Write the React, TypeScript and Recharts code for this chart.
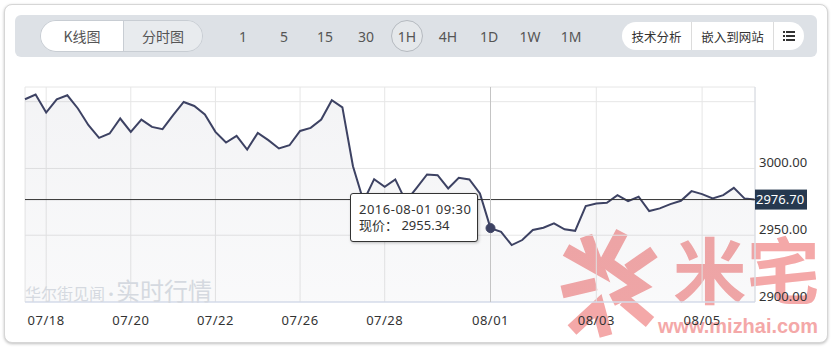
import React from 'react';
import { AreaChart, Area, XAxis, YAxis, CartesianGrid, ReferenceLine, Tooltip } from 'recharts';

// trading sessions: day label + hourly bar start times
const sessions: [string, string[]][] = [
  ['07-15', ['13:00', '14:00']],
  ['07-18', ['09:30', '10:30', '13:00', '14:00']],
  ['07-19', ['09:30', '10:30', '13:00', '14:00']],
  ['07-20', ['09:30', '10:30', '13:00', '14:00']],
  ['07-21', ['09:30', '10:30', '13:00', '14:00']],
  ['07-22', ['09:30', '10:30', '13:00', '14:00']],
  ['07-25', ['09:30', '10:30', '13:00', '14:00']],
  ['07-26', ['09:30', '10:30', '13:00', '14:00']],
  ['07-27', ['09:30', '10:30', '13:00', '14:00']],
  ['07-28', ['09:30', '10:30', '13:00', '14:00', '15:00']],
  ['07-29', ['09:30', '10:30', '13:00', '14:00', '15:00']],
  ['08-01', ['09:30', '10:30', '13:00', '14:00', '15:00']],
  ['08-02', ['09:30', '10:30', '13:00', '14:00', '15:00']],
  ['08-03', ['09:30', '10:30', '13:00', '14:00', '15:00']],
  ['08-04', ['09:30', '10:30', '13:00', '14:00', '15:00']],
  ['08-05', ['09:30', '10:30', '11:30', '13:00', '14:00', '15:00']],
];

const prices: number[] = [
  3051.8, 3055.3, 3041.9, 3051.8, 3054.8, 3044.9, 3032.4, 3022.9, 3026.2, 3037.4,
  3027.4, 3036.6, 3031.1, 3029.4, 3039.9, 3049.8, 3046.8, 3040.4, 3027.4, 3019.4,
  3024.4, 3014.2, 3026.6, 3021.2, 3015.0, 3017.4, 3028.1, 3030.4, 3036.6, 3051.1,
  3045.8, 3001.7, 2975.5, 2992.0, 2986.2, 2991.8, 2975.4, 2985.3, 2995.5, 2995.0,
  2985.0, 2993.0, 2991.8, 2981.3, 2955.34, 2952.6, 2942.6, 2946.4, 2953.9, 2955.6,
  2958.9, 2954.4, 2953.3, 2971.8, 2973.8, 2974.3, 2980.0, 2975.5, 2978.8, 2968.1,
  2970.1, 2973.3, 2975.8, 2983.0, 2980.8, 2977.6, 2980.0, 2985.5, 2977.6, 2976.70,
];

const tickDays: string[] = ['07-18', '07-20', '07-22', '07-26', '07-28', '08-01', '08-03', '08-05'];
const yTicks: number[] = [2900, 2950, 3000, 3050];
const hiddenYLabels: number[] = [3050];
const currentPrice = 2976.70;
const tooltipIndex = 44;

const periods: string[] = ['1', '5', '15', '30', '1H', '4H', '1D', '1W', '1M'];
const activePeriod = '1H';

const times: string[] = [];
sessions.forEach(([d, hs]) => hs.forEach((h) => times.push(`2016-${d} ${h}`)));
const data = prices.map((p, i) => ({ i, time: times[i], price: p }));
const xTicks = tickDays.map((d) => times.findIndex((t) => t.startsWith(`2016-${d}`)));
const xLabel = (v: number) => {
  const t = times[v] || '';
  return t.slice(5, 10).replace('-', '/');
};

const FONT = '"Noto Sans", "Noto Sans CJK SC", sans-serif';
const CJK = '"Noto Sans CJK SC", "Noto Sans", sans-serif';

const YTick = (props: any) => {
  const { x, y, payload } = props;
  if (hiddenYLabels.includes(payload.value)) return <g />;
  return (
    <text x={x + 4} y={y - 6} dy="0.35em" fontSize={13} fill="#333" fontFamily={FONT} textAnchor="start">
      {payload.value.toFixed(2)}
    </text>
  );
};

const XTick = (props: any) => {
  const { x, y, payload } = props;
  return (
    <text x={x} y={y + 10} dy="0.35em" fontSize={13} fill="#333" fontFamily={FONT} textAnchor="middle" letterSpacing={0.5}>
      {xLabel(payload.value)}
    </text>
  );
};

const PriceLabel = (props: any) => {
  const vb = props.viewBox || {};
  const right = (vb.x || 0) + (vb.width || 0);
  const y = vb.y || 0;
  return (
    <g>
      <rect x={right} y={y - 10} width={52} height={20} fill="#26384f" />
      <text x={right + 1} y={y} dy="0.35em" fontSize={13} fill="#fff" fontFamily={FONT}>
        {currentPrice.toFixed(2)}
      </text>
    </g>
  );
};

const TipContent = (props: any) => {
  const { payload } = props;
  if (!payload || !payload.length) return null;
  const p = payload[0].payload;
  return (
    <div
      style={{
        width: 128,
        height: 49,
        background: '#fff',
        border: '1px solid #333',
        borderRadius: 3,
        boxShadow: '1px 1px 3px rgba(0,0,0,0.25)',
        fontFamily: FONT,
        fontSize: 13,
        color: '#333',
        padding: '7px 0 0 8px',
        boxSizing: 'border-box',
        lineHeight: '16px',
        whiteSpace: 'nowrap',
      }}
    >
      <div style={{ letterSpacing: 0.5 }}>{p.time}</div>
      <div>
        <span style={{ fontFamily: CJK }}>现价：</span>&nbsp;{p.price.toFixed(2)}
      </div>
    </div>
  );
};

export default function App() {
  return (
    <div style={{ position: 'absolute', left: 0, top: 0, width: 832, height: 347, background: '#fff', overflow: 'hidden' }}>
      {/* card */}
      <div
        style={{
          position: 'absolute',
          left: 4,
          top: 4,
          width: 822,
          height: 337,
          border: '1px solid #d6d6d6',
          borderRadius: 8,
          boxShadow: '0 1px 3px rgba(0,0,0,0.25)',
          background: '#fff',
        }}
      />
      {/* toolbar */}
      <div style={{ position: 'absolute', left: 15, top: 15, width: 802, height: 42, background: '#dde1e6', borderRadius: 6 }} />
      <div
        style={{
          position: 'absolute', left: 40, top: 20, width: 163, height: 32, borderRadius: 16,
          border: '1px solid #c8cdd3', boxSizing: 'border-box', overflow: 'hidden', display: 'flex',
          fontFamily: CJK, fontSize: 14, color: '#555',
        }}
      >
        <div style={{ width: 82, background: '#fff', display: 'flex', alignItems: 'center', justifyContent: 'center' }}>K线图</div>
        <div style={{ flex: 1, background: '#e8ebee', borderLeft: '1px solid #c8cdd3', display: 'flex', alignItems: 'center', justifyContent: 'center' }}>分时图</div>
      </div>
      {periods.map((p, k) => {
        const cx = 243 + k * 41;
        const active = p === activePeriod;
        return (
          <div
            key={p}
            style={{
              position: 'absolute', left: cx - 16, top: 20, width: 32, height: 32, borderRadius: 16,
              boxSizing: 'border-box', border: active ? '1px solid #b5bac0' : 'none',
              background: active ? '#e5e8eb' : 'transparent', display: 'flex', alignItems: 'center',
              justifyContent: 'center', fontFamily: FONT, fontSize: 14, color: '#555',
            }}
          >
            {p}
          </div>
        );
      })}
      <div
        style={{
          position: 'absolute', left: 622, top: 22, width: 182, height: 28, borderRadius: 14, background: '#fff',
          display: 'flex', fontFamily: CJK, fontSize: 12.5, color: '#333', overflow: 'hidden',
        }}
      >
        <div style={{ width: 69, display: 'flex', alignItems: 'center', justifyContent: 'center' }}>技术分析</div>
        <div style={{ width: 81, borderLeft: '1px solid #dcdcdc', display: 'flex', alignItems: 'center', justifyContent: 'center' }}>嵌入到网站</div>
        <div style={{ flex: 1, borderLeft: '1px solid #dcdcdc', display: 'flex', alignItems: 'center', justifyContent: 'center' }}>
          <svg width={12} height={10}>
            <rect x={0} y={0} width={2} height={2} fill="#333" />
            <rect x={3} y={0} width={9} height={2} fill="#333" />
            <rect x={0} y={4} width={2} height={2} fill="#333" />
            <rect x={3} y={4} width={9} height={2} fill="#333" />
            <rect x={0} y={8} width={2} height={2} fill="#333" />
            <rect x={3} y={8} width={9} height={2} fill="#333" />
          </svg>
        </div>
      </div>

      {/* mizhai watermark (under chart) */}
      <svg style={{ position: 'absolute', left: 0, top: 0 }} width={832} height={347}>
        <g stroke="#f4a8a8" strokeWidth={13} fill="none" strokeLinejoin="miter">
          <polyline points="566,250 598,268 586,236" />
          <polyline points="622,232 606,262 640,286 612,300" />
          <polyline points="654,252 628,270" />
          <polyline points="562,292 596,284" />
          <polyline points="572,330 598,306 606,336" />
          <polyline points="650,322 624,300" />
        </g>
        <text x={673} y={298} fontSize={72} fontWeight={700} fill="#f4a8a8" fontFamily={CJK} textLength={147} lengthAdjust="spacingAndGlyphs">米宅</text>
        <text x={658} y={333} fontSize={20} fontWeight={700} fill="#f4a8a8" fontFamily='"Liberation Sans", Arial, sans-serif' textLength={160} lengthAdjust="spacingAndGlyphs">www.mizhai.com</text>
      </svg>

      <div style={{ position: 'absolute', left: 0, top: 0 }}>
        <AreaChart width={832} height={347} data={data} margin={{ top: 87, right: 0, bottom: 15, left: 25 }}>
          <defs>
            <linearGradient id="areaFill" x1="0" y1="0" x2="0" y2="1">
              <stop offset="0%" stopColor="#3d4263" stopOpacity={0.1} />
              <stop offset="100%" stopColor="#3d4263" stopOpacity={0.05} />
            </linearGradient>
          </defs>
          <CartesianGrid stroke="#e6e6e6" />
          <XAxis
            dataKey="i"
            type="number"
            domain={[0, prices.length - 1]}
            ticks={xTicks}
            height={30}
            tick={<XTick />}
            tickLine={false}
            axisLine={{ stroke: '#ccd6eb' }}
            interval={0}
          />
          <YAxis
            orientation="right"
            domain={[2900, 3061]}
            ticks={yTicks}
            width={77}
            tick={<YTick />}
            tickLine={false}
            axisLine={false}
            tickSize={0}
            tickMargin={0}
            allowDataOverflow
          />
          <ReferenceLine x={prices.length - 1} stroke="#d8dce4" />
          <Tooltip
            active
            defaultIndex={tooltipIndex}
            isAnimationActive={false}
            position={{ x: 350, y: 193 }}
            cursor={{ stroke: '#c4c4c4', strokeWidth: 1 }}
            content={<TipContent />}
            wrapperStyle={{ outline: 'none' }}
          />
          <Area
            type="linear"
            dataKey="price"
            stroke="#3d4263"
            strokeWidth={2}
            fill="url(#areaFill)"
            isAnimationActive={false}
            dot={false}
            activeDot={{ r: 4.5, fill: '#3d4263', stroke: '#3d4263', strokeWidth: 1 }}
          />
          <ReferenceLine y={currentPrice} stroke="#333" strokeWidth={1} label={<PriceLabel />} ifOverflow="visible" />
        </AreaChart>
      </div>

      {/* wallstreetcn watermark */}
      <div
        style={{
          position: 'absolute', left: 25, top: 272, fontFamily: CJK, color: '#d5d9e0', whiteSpace: 'nowrap',
          pointerEvents: 'none', display: 'flex', alignItems: 'baseline',
        }}
      >
        <span style={{ fontSize: 16 }}>华尔街见闻</span>
        <span style={{ fontSize: 16, margin: '0 -3px 0 -2px' }}>·</span>
        <span style={{ fontSize: 24 }}>实时行情</span>
      </div>
    </div>
  );
}
